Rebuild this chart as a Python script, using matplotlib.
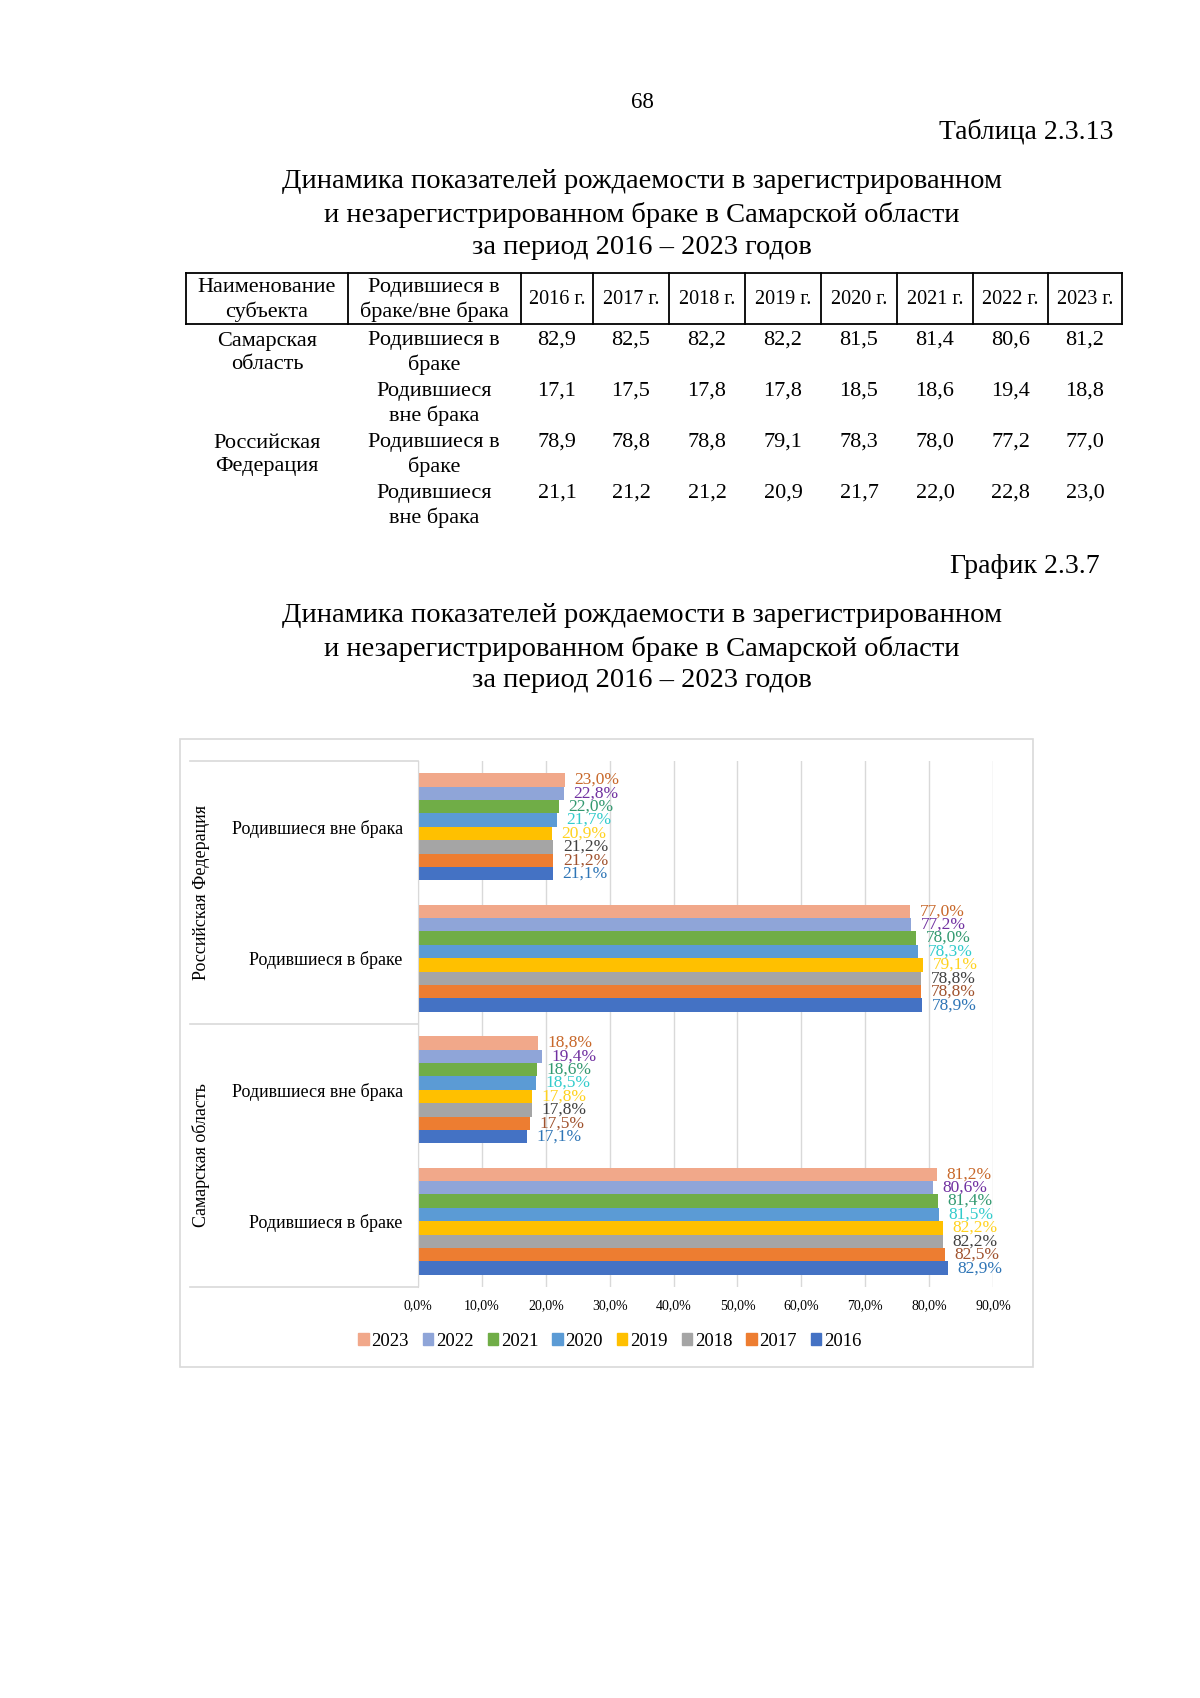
import matplotlib
matplotlib.use("Agg")
import matplotlib.pyplot as plt
import numpy as np
from matplotlib.lines import Line2D
from matplotlib.patches import Rectangle

plt.rcParams["font.family"] = ["Liberation Serif", "DejaVu Serif"]

# ---- data ----
years = ["2016", "2017", "2018", "2019", "2020", "2021", "2022", "2023"]
samara_in = [82.9, 82.5, 82.2, 82.2, 81.5, 81.4, 80.6, 81.2]
samara_out = [17.1, 17.5, 17.8, 17.8, 18.5, 18.6, 19.4, 18.8]
rf_in = [78.9, 78.8, 78.8, 79.1, 78.3, 78.0, 77.2, 77.0]
rf_out = [21.1, 21.2, 21.2, 20.9, 21.7, 22.0, 22.8, 23.0]

regions = ["Самарская\nобласть", "Российская\nФедерация"]
row_kinds = ["Родившиеся в\nбраке", "Родившиеся\nвне брака"]
categories = ["Родившиеся в браке", "Родившиеся вне брака",
              "Родившиеся в браке", "Родившиеся вне брака"]
group_labels = ["Самарская область", "Российская Федерация"]
title_lines = ["Динамика показателей рождаемости в зарегистрированном",
               "и незарегистрированном браке в Самарской области",
               "за период 2016 – 2023 годов"]

bar_colors = ["#4472C4", "#ED7D31", "#A5A5A5", "#FFC000",
              "#5B9BD5", "#70AD47", "#8FA5D8", "#F1A88A"]
label_colors = ["#2E75B6", "#A0522D", "#404040", "#FFD21F",
                "#33CCCC", "#339970", "#7030A0", "#C8682A"]

W, H = 1200, 1698
fig = plt.figure(figsize=(W / 100, H / 100), dpi=100)


def fx(x):
    return x / W


def fy(y):
    return 1 - y / H


def hline(x0, x1, y, lw=1.3, color="black"):
    fig.add_artist(Line2D([fx(x0), fx(x1)], [fy(y), fy(y)], lw=lw, color=color))


def vline(x, y0, y1, lw=1.3, color="black"):
    fig.add_artist(Line2D([fx(x), fx(x)], [fy(y0), fy(y1)], lw=lw, color=color))


# ---- page header ----
fig.text(fx(642), fy(102), "68", ha="center", va="center", fontsize=16.5)
fig.text(fx(1113), fy(132), "Таблица 2.3.13", ha="right", va="center", fontsize=20)
for k, line in enumerate(title_lines):
    fig.text(fx(642), fy(182 + 32.5 * k), line, ha="center", va="center",
             fontsize=20.5)

# ---- table ----
col_edges = [186, 348, 521, 593, 669, 745, 821, 897, 973, 1048, 1122]
top, head_bot = 273, 324
hline(col_edges[0], col_edges[-1], top)
hline(col_edges[0], col_edges[-1], head_bot)
for x in col_edges:
    vline(x, top, head_bot)

tfs = 16
ls = 1.3
fig.text(fx(267), fy(300), "Наименование\nсубъекта", ha="center", va="center",
         fontsize=tfs, linespacing=ls)
fig.text(fx(434), fy(300), "Родившиеся в\nбраке/вне брака", ha="center",
         va="center", fontsize=tfs, linespacing=ls)
for i, yr in enumerate(years):
    cx = (col_edges[i + 2] + col_edges[i + 3]) / 2
    fig.text(fx(cx), fy(300), yr + " г.", ha="center", va="center",
             fontsize=14.5)

rows = [samara_in, samara_out, rf_in, rf_out]
row_y = [340, 391, 442, 493]
for r, vals in enumerate(rows):
    y = row_y[r]
    if r % 2 == 0:
        fig.text(fx(267), fy(y + 13), regions[r // 2], ha="center", va="center",
                 fontsize=tfs, linespacing=ls)
    fig.text(fx(434), fy(y + 13), row_kinds[r % 2], ha="center", va="center",
             fontsize=tfs, linespacing=ls)
    for i, v in enumerate(vals):
        cx = (col_edges[i + 2] + col_edges[i + 3]) / 2
        fig.text(fx(cx), fy(y), f"{v:.1f}".replace(".", ","), ha="center",
                 va="center", fontsize=tfs)

# ---- chart header ----
fig.text(fx(1100), fy(567), "График 2.3.7", ha="right", va="center", fontsize=20)
for k, line in enumerate(title_lines):
    fig.text(fx(642), fy(616 + 32.5 * k), line, ha="center", va="center",
             fontsize=20.5)

# chart frame
fig.add_artist(Rectangle((fx(180), fy(1367)), fx(1033) - fx(180),
                         fy(739) - fy(1367), fill=False, ec="#D9D9D9", lw=1.2))

# ---- bar chart ----
ax_l, ax_r, ax_t, ax_b = 418, 993, 761, 1287
ax = fig.add_axes([fx(ax_l), fy(ax_b), fx(ax_r) - fx(ax_l), fy(ax_t) - fy(ax_b)])

series = np.array([samara_in, samara_out, rf_in, rf_out])  # rows = categories
ypos = np.arange(len(categories))
bh = 0.102
for i, yr in enumerate(years):
    off = (i - 3.5) * bh
    vals = series[:, i]
    ax.barh(ypos + off, vals, height=bh, color=bar_colors[i], zorder=3)
    for yy, v in zip(ypos + off, vals):
        ax.text(v + 1.5, yy, f"{v:.1f}%".replace(".", ","), ha="left",
                va="center", fontsize=12.5, color=label_colors[i],
                clip_on=False, zorder=4)

ax.set_xlim(0, 90)
ax.set_ylim(-0.5, 3.5)
ax.set_xticks(np.arange(0, 91, 10))
ax.set_xticklabels([f"{t:.1f}%".replace(".", ",") for t in np.arange(0, 91, 10)],
                   fontsize=10)
ax.set_yticks(ypos)
ax.set_yticklabels(categories, fontsize=13)
ax.tick_params(axis="both", length=0)
ax.tick_params(axis="x", pad=9)
ax.tick_params(axis="y", pad=11)
ax.grid(axis="x", color="#D9D9D9", lw=1, zorder=0)
for s in ["top", "right", "bottom"]:
    ax.spines[s].set_visible(False)
ax.spines["left"].set_color("#D9D9D9")
ax.spines["left"].set_zorder(5)

# group label column
mid = (ax_t + ax_b) / 2
for y in [ax_t, mid, ax_b]:
    hline(190, ax_l, y, lw=1.2, color="#D9D9D9")
fig.text(fx(201), fy((ax_t + mid) / 2), group_labels[1], rotation=90,
         ha="center", va="center", fontsize=13)
fig.text(fx(201), fy((mid + ax_b) / 2), group_labels[0], rotation=90,
         ha="center", va="center", fontsize=13)

# legend
handles = [Rectangle((0, 0), 1, 1, color=bar_colors[i]) for i in range(7, -1, -1)]
fig.legend(handles, [years[i] for i in range(7, -1, -1)], ncol=8,
           loc="center", bbox_to_anchor=(fx(610), fy(1341)), frameon=False,
           fontsize=13.5, handlelength=0.55, handleheight=0.55, handletextpad=0.15,
           columnspacing=0.75)

fig.savefig("out.png", dpi=100, facecolor="white")
